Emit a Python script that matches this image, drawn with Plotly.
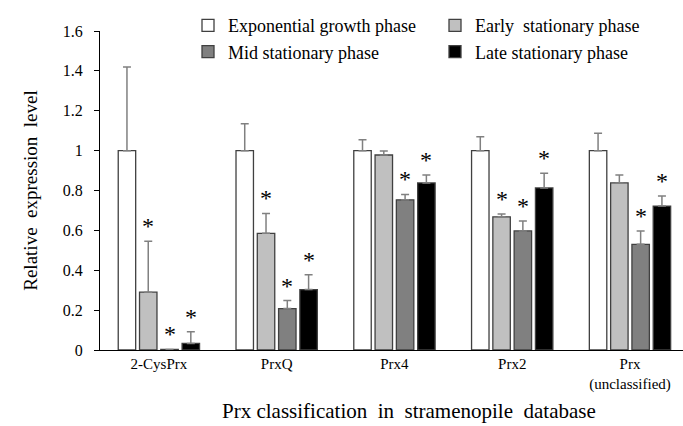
import plotly.graph_objects as go

categories = ["2-CysPrx", "PrxQ", "Prx4", "Prx2", "Prx<br>(unclassified)"]
series_names = ["Exponential growth phase", "Early  stationary phase",
                "Mid stationary phase", "Late stationary phase"]
exp_vals = [1.0, 1.0, 1.0, 1.0, 1.0]
exp_err = [0.42, 0.135, 0.055, 0.07, 0.087]
early_vals = [0.29, 0.585, 0.978, 0.668, 0.838]
early_err = [0.255, 0.10, 0.02, 0.014, 0.04]
mid_vals = [0.003, 0.208, 0.753, 0.597, 0.53]
mid_err = [0.0, 0.04, 0.027, 0.05, 0.067]
late_vals = [0.033, 0.303, 0.838, 0.813, 0.722]
late_err = [0.059, 0.074, 0.04, 0.074, 0.05]
# significance marks (1 = asterisk)
exp_sig = [0, 0, 0, 0, 0]
early_sig = [1, 1, 0, 1, 0]
mid_sig = [1, 1, 1, 1, 1]
late_sig = [1, 1, 1, 1, 1]

colors = ["#ffffff", "#c0c0c0", "#808080", "#000000"]
legend_ids = ["legend", "legend2", "legend", "legend2"]
vals = [exp_vals, early_vals, mid_vals, late_vals]
errs = [exp_err, early_err, mid_err, late_err]
sigs = [exp_sig, early_sig, mid_sig, late_sig]

FONT = "Liberation Serif"
fig = go.Figure()
for name, v, e, c, lg in zip(series_names, vals, errs, colors, legend_ids):
    fig.add_trace(go.Bar(
        x=categories, y=v, name=name, legend=lg,
        marker=dict(color=c, line=dict(color="#404040", width=1.3)),
        error_y=dict(type="data", symmetric=False, array=e,
                     arrayminus=[0] * len(e), color="#808080",
                     thickness=1.5, width=4),
    ))

slot = 21.3 / 117.9
offsets = [-1.5 * slot, -0.5 * slot, 0.5 * slot, 1.5 * slot]
for si, (v, e, s) in enumerate(zip(vals, errs, sigs)):
    for ci in range(len(categories)):
        if s[ci]:
            fig.add_annotation(x=ci + offsets[si], y=v[ci] + e[ci],
                               xref="x", yref="y", text="*", showarrow=False,
                               yanchor="bottom", yshift=0, opacity=0.99,
                               font=dict(family=FONT, size=24, color="#000000"))

fig.add_annotation(x=(409 - 100) / 583, y=0, xref="paper", yref="paper",
                   yanchor="top", yshift=-47, showarrow=False,
                   text="Prx classification  in  stramenopile  database",
                   font=dict(family=FONT, size=21, color="#000000"))


def legend_cfg(xpx):
    return dict(orientation="v", xanchor="left", yanchor="top",
                x=(xpx - 100) / 583, y=1.075,
                font=dict(family="Liberation Serif", size=18, color="#000000"),
                bgcolor="rgba(0,0,0,0)", tracegroupgap=0, itemwidth=30)


fig.update_layout(
    width=683, height=426,
    margin=dict(l=100, r=0, t=31, b=76),
    paper_bgcolor="white", plot_bgcolor="white",
    barmode="group", bargap=0.277, bargroupgap=0.18,
    font=dict(family=FONT, color="#000000"),
    showlegend=True,
    legend=legend_cfg(188),
    legend2=legend_cfg(435),
    xaxis=dict(range=[-0.5, 4.45], showline=True, linecolor="#000", linewidth=1,
               ticks="", tickfont=dict(family=FONT, size=15),
               showgrid=False, zeroline=False),
    yaxis=dict(range=[0, 1.6], tickvals=[0, 0.2, 0.4, 0.6, 0.8, 1, 1.2, 1.4, 1.6],
               ticktext=["0", "0.2", "0.4", "0.6", "0.8", "1", "1.2", "1.4", "1.6"],
               showline=True, linecolor="#000", linewidth=1,
               ticks="outside", ticklen=5, tickcolor="#000",
               ticklabelstandoff=8,
               tickfont=dict(family=FONT, size=16),
               title=dict(text="Relative  expression  level",
                          font=dict(family=FONT, size=19), standoff=20),
               showgrid=False, zeroline=False),
)
fig.write_html("out.html")
